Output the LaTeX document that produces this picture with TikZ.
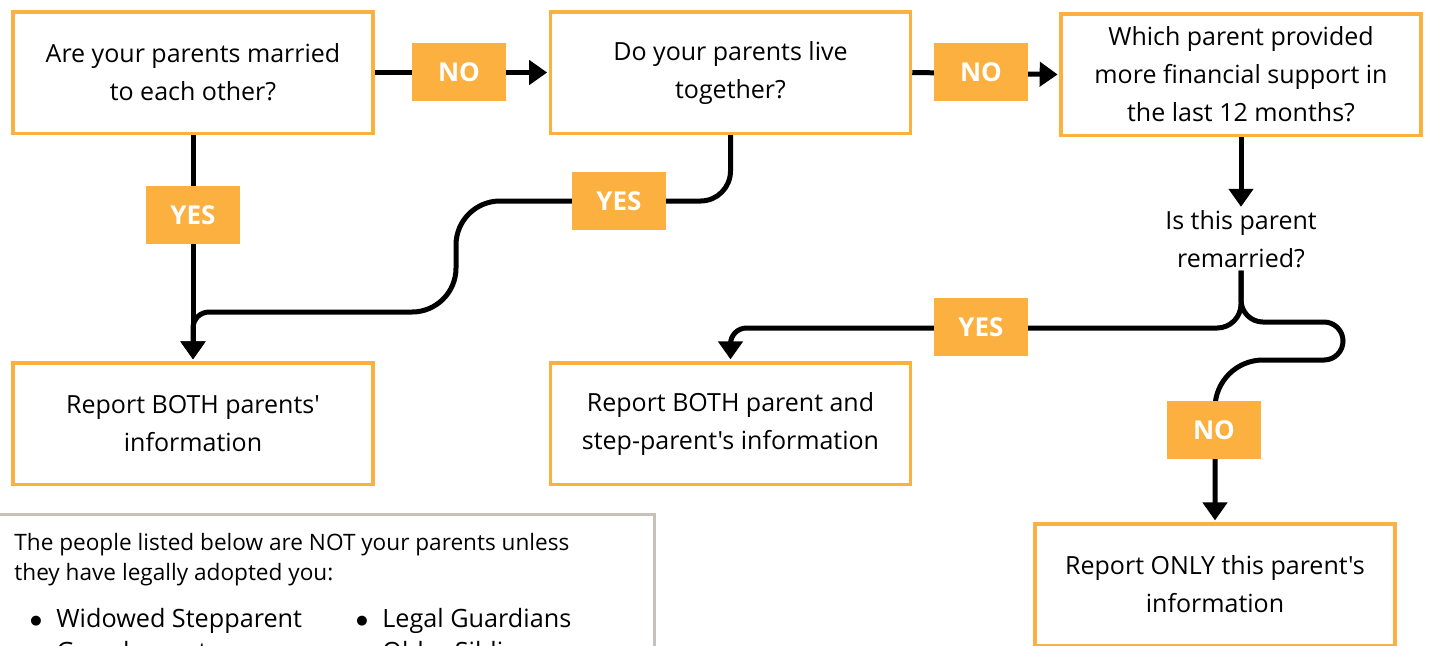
\documentclass[tikz,border=0pt]{standalone}
\usepackage{fontspec}
\setmainfont{Open Sans}[Ligatures=TeXOff]
\newfontfamily\dotfont{DejaVu Sans}
\usetikzlibrary{arrows.meta,positioning,calc}
\definecolor{flowgold}{RGB}{251,176,64}
\definecolor{notegray}{RGB}{200,193,186}
\newcommand{\listdot}{\makebox[13pt][l]{\raisebox{1.6pt}{\dotfont\fontsize{6.5}{8}\selectfont ●}}}
\tikzset{
     qbox/.style={draw=flowgold, line width=1.75pt, minimum width=180pt, minimum height=60.75pt,
        align=center, inner sep=0pt, font=\fontsize{12.5}{19}\selectfont},
      tag/.style = {fill=flowgold, text=white, minimum width=47pt, minimum height=29pt,
        inner sep=0pt, font=\fontsize{13}{15}\selectfont\bfseries},
      flow/.style = {black, line width=2.5pt, shorten >=0.8pt, -{Triangle[width=12pt,length=9pt]}},
      notetext/.style = {align=left, inner sep=0pt, font=\fontsize{11.3}{15}\selectfont},
      item/.style = {inner sep=0pt, anchor=west, font=\fontsize{12.6}{14}\selectfont},
      position/.style args={#1:#2 from #3}{
        at=(#3.#1), anchor=#1+180, shift=(#1:#2)
    },
    }

\begin{document}
\begin{tikzpicture}[x=0.5pt, y=-0.5pt]
        \useasboundingbox (0,0) rectangle (1429,645);
        \clip (0,0) rectangle (1429,645);
        % question and result boxes
        \node [qbox] (married) at (193,72.5) {Are your parents married\\to each other?};
        \node [qbox] (together) [position=0: 87pt from married] {Do your parents live\\together?};
        \node [qbox] (support) at (1241,74.5) {Which parent provided\\more financial support in\\the last 12 months?};
        \node [qbox] (both) [position=270: 113pt from married] {Report BOTH parents'\\information};
        \node [qbox] (step) [position=270: 113pt from together] {Report BOTH parent and\\step-parent's information};
        \node [qbox] (only) at (1215,584.5) {Report ONLY this parent's\\information};
        \node [align=center, inner sep=1pt, font=\fontsize{12.5}{19}\selectfont] (remarried) at (support.south |- 0,239.5) {Is this parent\\remarried?};
        % connectors
        \draw [flow] (married.east) -- (together.west);
        \draw [flow] (together.east) -- (support.west);
        \draw [flow] (married.south) -- (both.north);
        \draw [flow] (support.south) -- (remarried.north);
        \draw [flow, rounded corners=15pt] (together.south) -- (together.south |- 0,201)
              [rounded corners=22pt] -- (456,201) -- (456,312)
              [rounded corners=8pt] -- (both.north |- 0,312) -- (both.north);
        \draw [flow, rounded corners=12pt] (remarried.south) -- (remarried.south |- 0,328)
              [rounded corners=8pt] -- (step.north |- 0,328) -- (step.north);
        \draw [flow, rounded corners=11pt] (remarried.south) -- (remarried.south |- 0,322)
              [rounded corners=9.5pt] -- (1343,322) -- (1343,360)
              [rounded corners=24pt] -- (only.north |- 0,360) -- (only.north);
        % answer tags
        \node [tag] (noA) at (459,72) {NO};
        \node [tag] (noB) at (981,72) {NO};
        \node [tag] (yesA) at (193,215) {YES};
        \node [tag] (yesB) at (619,201) {YES};
        \node [tag] (yesC) at (981,327) {YES};
        \node [tag] (noC) at (1214,430) {NO};
        % note box
        \draw [notegray, line width=1.5pt] (-10,514) rectangle (654,720);
        \node [notetext, anchor=north west] (intro) at (14,533) {The people listed below are NOT your parents unless\\they have legally adopted you:};
        \node [item] (widowed) at (30,621) {\listdot Widowed Stepparent};
        \node [item] (guardians) at (356,621) {\listdot Legal Guardians};
        \node [item] (grand) at (30,654) {\listdot Grandparents};
        \node [item] (siblings) at (356,654) {\listdot Older Siblings};
\end{tikzpicture}
\end{document}
